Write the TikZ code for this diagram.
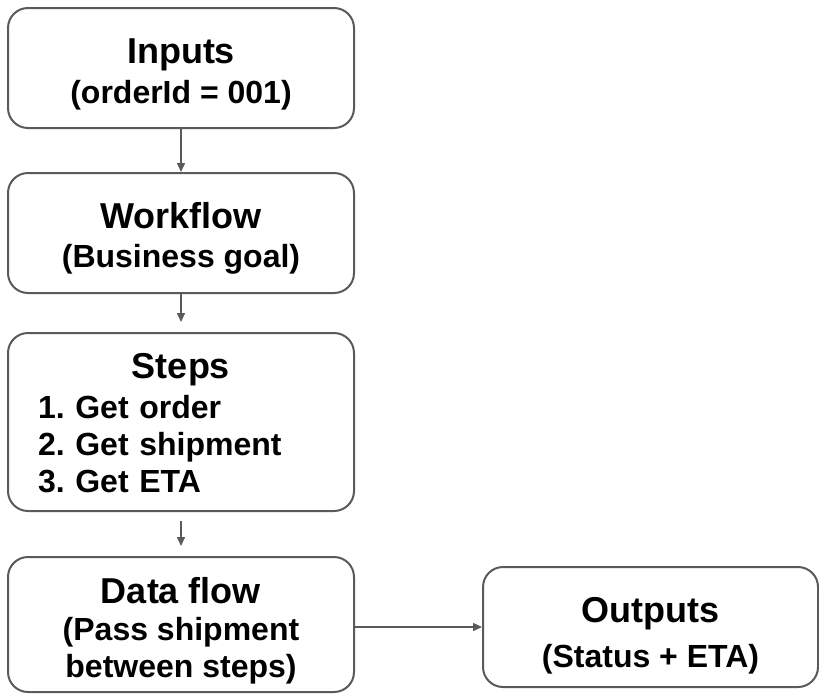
\documentclass[tikz,border=0pt]{standalone}
\usepackage{fontspec}
\setmainfont{Liberation Sans}
\usetikzlibrary{arrows.meta}
\frenchspacing

\definecolor{edgegray}{HTML}{5A5A5A}
\newcommand{\boxtitle}[1]{{\fontsize{36}{40}\selectfont #1}}
\tikzset{
	box/.style={draw=edgegray, line width=2pt, rounded corners=20pt, minimum width=346pt,
		inner sep=0pt, align=center, text depth=0pt, font=\fontsize{32}{40}\selectfont\bfseries},
	flow/.style={draw=edgegray, line width=1.5pt, -{Triangle[width=8pt,length=9pt]}}
}

\begin{document}
\begin{tikzpicture}[x=1pt, y=-1pt]
				\useasboundingbox (0,0) rectangle (819,694);
				\path (181,68) node[box, minimum height=120pt, text height=70pt] (inputs) {\boxtitle{Inputs}\\(orderId = 001)}
				(181,233) node[box, minimum height=120pt, text height=68pt, font=\fontsize{32}{39}\selectfont\bfseries] (workflow) {\boxtitle{Workflow}\\(Business goal)}
				(181,422) node[box, minimum height=178pt, text height=0pt, text depth=88pt, text width=286pt, align=left,
					font=\fontsize{32}{37}\selectfont\bfseries] (steps) {\makebox[286pt]{\boxtitle{Steps}}\\[3pt]1. Get order\\2. Get shipment\\3. Get ETA}
				(181,624.5) node[box, minimum height=135pt, text height=105pt, font=\fontsize{32}{37}\selectfont\bfseries] (data) {\boxtitle{Data flow}\\(Pass shipment\\between steps)}
				(650.5,627) node[box, minimum width=335pt, minimum height=120pt, text height=80pt, font=\fontsize{32}{45}\selectfont\bfseries] (outputs) {\boxtitle{Outputs}\\(Status + ETA)};
				
				\draw[flow] (inputs) -- (workflow);
				\draw[flow, shorten >=10pt] (workflow) -- (steps);
				\draw[flow, shorten <=9pt, shorten >=10pt] (steps) -- (data);
				\draw[flow] (data.east |- outputs.west) -- (outputs.west);
\end{tikzpicture}
\end{document}
